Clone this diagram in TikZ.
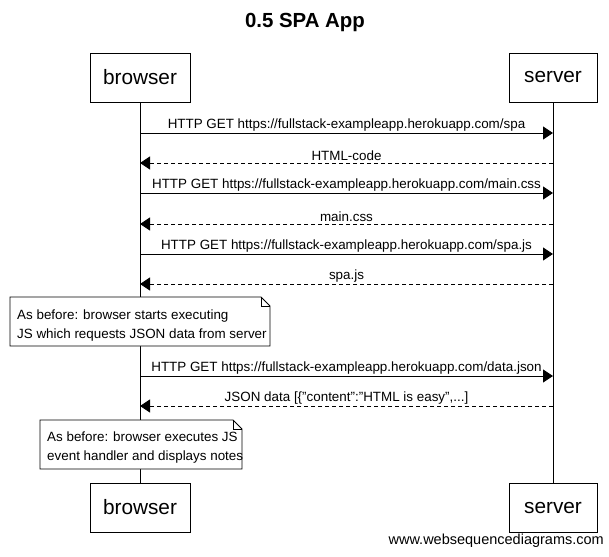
\documentclass[tikz,border=0pt]{standalone}
\usepackage{fontspec}
\setmainfont{Liberation Sans}
\usetikzlibrary{arrows.meta}
\begin{document}
\begin{tikzpicture}[x=1pt,y=-1pt,
  actor/.style={draw,line width=0.8pt,minimum width=100pt,minimum height=49pt,inner sep=0pt,font=\fontsize{20.8}{24}\selectfont},
  msg/.style={line width=0.8pt,-{Triangle[length=10pt,width=13pt]}},
  reply/.style={msg,dashed,dash pattern=on 4pt off 3pt},
  lbl/.style={font=\fontsize{13.4}{15}\selectfont,inner sep=1.5pt,above},
  life/.style={line width=0.8pt},
  notetxt/.style={font=\fontsize{13.4}{19}\selectfont,align=left,anchor=base west,inner sep=0pt}]
\useasboundingbox (0,0) rectangle (609,556);
\node[font=\bfseries\fontsize{20.4}{24}\selectfont] (title) at (305,22) {0.5 SPA App};
\node[actor] (bt) at (140,77.5) {browser};
\node[actor,minimum width=88pt] (st) at (553,77.5) {server};
\node[actor] (bb) at (140,507.5) {browser};
\node[actor,minimum width=88pt] (sb) at (553,507.5) {server};
\draw[life] (bt.south) -- (bb.north);
\draw[life] (st.south) -- (sb.north);
% messages
\coordinate (b1) at (140,133); \coordinate (s1) at (553,133);
\coordinate (b2) at (140,163); \coordinate (s2) at (553,163);
\coordinate (b3) at (140,193); \coordinate (s3) at (553,193);
\coordinate (b4) at (140,224); \coordinate (s4) at (553,224);
\coordinate (b5) at (140,254); \coordinate (s5) at (553,254);
\coordinate (b6) at (140,284); \coordinate (s6) at (553,284);
\coordinate (b7) at (140,376); \coordinate (s7) at (553,376);
\coordinate (b8) at (140,406); \coordinate (s8) at (553,406);
\draw[msg] (b1) -- node[lbl] {HTTP GET https://fullstack-exampleapp.herokuapp.com/spa} (s1);
\draw[reply] (s2) -- node[lbl] {HTML-code} (b2);
\draw[msg] (b3) -- node[lbl] {HTTP GET https://fullstack-exampleapp.herokuapp.com/main.css} (s3);
\draw[reply] (s4) -- node[lbl] {main.css} (b4);
\draw[msg] (b5) -- node[lbl] {HTTP GET https://fullstack-exampleapp.herokuapp.com/spa.js} (s5);
\draw[reply] (s6) -- node[lbl] {spa.js} (b6);
\draw[msg] (b7) -- node[lbl] {HTTP GET https://fullstack-exampleapp.herokuapp.com/data.json} (s7);
\draw[reply] (s8) -- node[lbl] {JSON data [\{\symbol{34}content\symbol{34}:\symbol{34}HTML is easy\symbol{34},...]} (b8);
% notes
\draw[fill=white,line width=0.8pt] (10,297) -- (261,297) -- (270,306) -- (270,346) -- (10,346) -- cycle;
\draw[line width=0.6pt] (261,297) -- (261,306) -- (270,306);
\node[notetxt] (n1) at (17,338) {As before: browser starts executing\\JS which requests JSON data from server};
\draw[fill=white,line width=0.8pt] (40,420) -- (233,420) -- (242,429) -- (242,469) -- (40,469) -- cycle;
\draw[line width=0.6pt] (233,420) -- (233,429) -- (242,429);
\node[notetxt] (n2) at (47,460) {As before: browser executes JS\\event handler and displays notes};
\node[font=\fontsize{14.5}{16}\selectfont,anchor=east,inner sep=0pt] (wm) at (604,541) {www.websequencediagrams.com};
\end{tikzpicture}
\end{document}
